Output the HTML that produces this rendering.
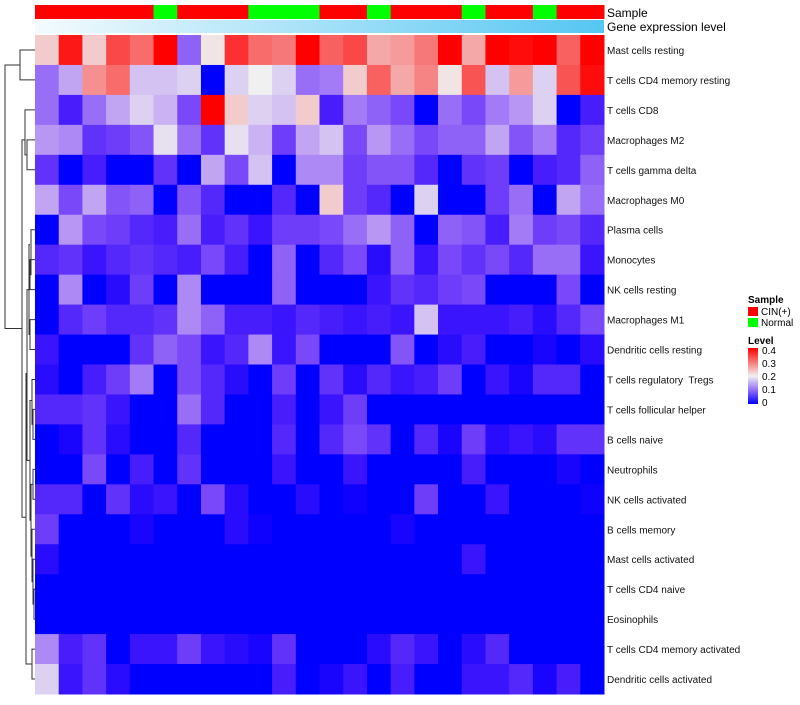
<!DOCTYPE html>
<html><head><meta charset="utf-8"><style>
body{margin:0;background:#fff;font-family:"Liberation Sans",sans-serif}
svg text{font-family:"Liberation Sans",sans-serif;white-space:pre}
</style></head><body>
<svg id="c" width="800" height="700" xmlns="http://www.w3.org/2000/svg">
<defs><linearGradient id="gexp" x1="0" x2="1" y1="0" y2="0"><stop offset="0" stop-color="#f4fbfe"/><stop offset="1" stop-color="#55c6f2"/></linearGradient>
<linearGradient id="lvl" x1="0" x2="0" y1="1" y2="0"><stop offset="0" stop-color="#0000ff"/><stop offset="0.25" stop-color="#9270f8"/><stop offset="0.5" stop-color="#f0f0f0"/><stop offset="1" stop-color="#ff0000"/></linearGradient></defs>
<g id="cells"></g>
<g id="ann"></g>
<rect x="35" y="20" width="569" height="13" fill="url(#gexp)"/>
<text x="607" y="17" font-size="12" fill="#000">Sample</text>
<text x="607" y="31" font-size="12" fill="#000">Gene expression level</text>
<g id="labels"></g>
<g id="dendro" stroke="#333" stroke-width="1" fill="none"></g>
<g>
<text x="748" y="303" font-size="10" font-weight="bold">Sample</text>
<rect x="748" y="307" width="10" height="9" fill="#ff0000"/>
<text x="761" y="315" font-size="10">CIN(+)</text>
<rect x="748" y="318" width="10" height="9" fill="#00ff00"/>
<text x="761" y="326" font-size="10">Normal</text>
<text x="748" y="344" font-size="10" font-weight="bold">Level</text>
<rect x="748" y="348" width="10" height="56" fill="url(#lvl)"/>
<text x="762" y="354" font-size="10">0.4</text>
<text x="762" y="380" font-size="10">0.2</text>
<text x="762" y="367" font-size="10">0.3</text>
<text x="762" y="393" font-size="10">0.1</text>
<text x="762" y="406" font-size="10">0</text>
</g>
</svg>
<script>
const rowNames=["Mast cells resting","T cells CD4 memory resting","T cells CD8","Macrophages M2","T cells gamma delta","Macrophages M0","Plasma cells","Monocytes","NK cells resting","Macrophages M1","Dendritic cells resting","T cells regulatory  Tregs","T cells follicular helper","B cells naive","Neutrophils","NK cells activated","B cells memory","Mast cells activated","T cells CD4 naive","Eosinophils","T cells CD4 memory activated","Dendritic cells activated"];
const sampleGroups=["CIN","CIN","CIN","CIN","CIN","Normal","CIN","CIN","CIN","Normal","Normal","Normal","CIN","CIN","Normal","CIN","CIN","CIN","Normal","CIN","CIN","Normal","CIN","CIN"];
const values=[
[0.23,0.38,0.23,0.34,0.31,0.4,0.1,0.21,0.36,0.31,0.3,0.4,0.32,0.34,0.26,0.27,0.3,0.4,0.26,0.4,0.39,0.4,0.32,0.4],
[0.11,0.15,0.28,0.31,0.17,0.17,0.18,0,0.18,0.2,0.18,0.11,0.12,0.23,0.32,0.26,0.29,0.21,0.33,0.17,0.27,0.18,0.33,0.39],
[0.11,0.04,0.11,0.15,0.18,0.16,0.08,0.4,0.23,0.18,0.17,0.23,0.04,0.12,0.1,0.08,0,0.11,0.08,0.12,0.14,0.18,0,0.04],
[0.14,0.13,0.06,0.07,0.09,0.19,0.11,0.06,0.19,0.16,0.07,0.15,0.17,0.08,0.14,0.11,0.08,0.1,0.1,0.15,0.09,0.12,0.05,0.07],
[0.06,0,0.04,0,0,0.06,0,0.15,0.08,0.17,0,0.13,0.13,0.07,0.09,0.09,0.05,0,0.06,0.07,0,0.04,0.05,0.1],
[0.15,0.08,0.15,0.09,0.1,0,0.09,0.05,0,0,0.05,0,0.23,0.07,0.05,0,0.18,0,0,0.07,0.11,0,0.15,0.11],
[0,0.14,0.08,0.07,0.05,0.04,0.11,0.04,0.06,0.03,0.07,0.07,0.08,0.11,0.14,0.1,0,0.1,0.09,0.04,0.12,0.07,0.08,0.05],
[0.05,0.06,0.03,0.05,0.06,0.05,0.04,0.08,0.04,0,0.1,0,0.05,0.08,0.02,0.1,0.03,0.08,0.06,0.08,0.05,0.11,0.11,0.03],
[0,0.13,0,0.02,0.07,0,0.13,0,0,0,0.1,0,0,0,0.03,0.06,0.05,0.07,0.08,0,0,0,0.08,0],
[0,0.05,0.07,0.05,0.05,0.06,0.13,0.1,0.04,0.04,0.03,0.05,0.04,0.03,0.04,0.03,0.17,0.03,0.03,0.03,0.04,0.02,0.05,0.08],
[0.03,0,0,0,0.06,0.1,0.08,0.03,0.05,0.13,0.03,0.08,0,0,0,0.09,0,0.02,0.04,0,0,0.01,0,0.02],
[0.02,0,0.04,0.07,0.12,0,0.08,0.05,0.02,0,0.07,0,0.06,0.02,0.05,0.03,0.04,0.07,0,0.03,0.01,0.05,0.05,0],
[0.05,0.05,0.06,0.03,0,0,0.11,0.05,0,0,0.04,0,0.03,0.07,0,0,0,0,0,0,0,0,0,0],
[0,0.01,0.06,0.02,0,0,0.05,0,0,0,0.05,0,0.05,0.08,0.06,0,0.05,0.01,0.07,0.02,0.03,0.02,0.06,0.06],
[0,0,0.08,0,0.04,0,0.06,0,0,0,0.03,0,0,0.03,0,0,0,0,0.04,0,0,0,0.01,0],
[0.05,0.05,0,0.06,0.02,0.03,0,0.08,0.02,0,0,0.02,0,0.005,0,0,0.07,0,0,0.03,0,0,0,0.005],
[0.07,0,0,0,0.01,0,0,0,0.02,0.005,0,0,0,0,0,0.01,0,0,0,0,0,0,0,0],
[0.02,0,0,0,0,0,0,0,0,0,0,0,0,0,0,0,0,0,0.03,0,0,0,0,0],
[0,0,0,0,0,0,0,0,0,0,0,0,0,0,0,0,0,0,0,0,0,0,0,0],
[0,0,0,0,0,0,0,0,0,0,0,0,0,0,0,0,0,0,0,0,0,0,0,0],
[0.13,0.04,0.06,0,0.03,0.03,0.07,0.03,0.02,0.01,0.06,0,0,0,0.02,0.05,0.03,0,0.02,0.05,0,0,0,0],
[0.18,0.03,0.06,0.02,0,0,0,0,0,0,0.04,0,0.01,0.03,0,0.04,0,0,0.03,0.03,0.05,0.01,0.04,0]
];
const NS="http://www.w3.org/2000/svg";
const X0=35,Y0=35,W=569,H=659,nc=24,nr=22,cw=W/nc,rh=H/nr;
const xPos=i=>X0+i*cw, yPos=j=>Y0+j*rh;
function col(v){v=Math.max(0,Math.min(0.4,v));let r,g,b;
 if(v<=0.2){const t=v/0.2;r=240*Math.pow(t,0.75);g=240*Math.pow(t,1.3);b=255-15*t;}
 else{const t=(v-0.2)/0.2;r=240+15*t;g=240*(1-t);b=240*(1-t);}
 return `rgb(${r|0},${g|0},${b|0})`;}
const cells=document.getElementById('cells');
values.forEach((row,j)=>row.forEach((v,i)=>{
 const r=document.createElementNS(NS,'rect');
 r.setAttribute('x',xPos(i));r.setAttribute('y',yPos(j));
 r.setAttribute('width',cw+0.5);r.setAttribute('height',rh+0.5);
 r.setAttribute('fill',col(v));
 
 
 cells.appendChild(r);}));
const ann=document.getElementById('ann');
sampleGroups.forEach((s,i)=>{
 const r=document.createElementNS(NS,'rect');
 r.setAttribute('x',xPos(i));r.setAttribute('y',5);r.setAttribute('width',cw+0.5);r.setAttribute('height',14);
 r.setAttribute('fill',s==="CIN"?"#ff0000":"#00ff00");
 
 
 ann.appendChild(r);});
const lab=document.getElementById('labels');
rowNames.forEach((n,j)=>{
 const t=document.createElementNS(NS,'text');
 t.setAttribute('x',607);t.setAttribute('y',yPos(j)+rh/2+4);t.setAttribute('font-size','10');t.setAttribute('fill','#111');
 t.textContent=n;
 
 
 lab.appendChild(t);});
const d=document.getElementById('dendro');
const mid=j=>yPos(j)+rh/2;
function link(x,ya,xa,yb,xb){const p=document.createElementNS(NS,'path');
 p.setAttribute('d',`M${xa},${ya}H${x}V${yb}H${xb}`);
 
 
 d.appendChild(p);}
link(20,mid(0),35,mid(1),35);
link(27,mid(3),35,mid(4),35);
link(25,mid(2),35,(mid(3)+mid(4))/2,27);
link(30,mid(7),35,mid(8),35);
link(31,mid(6),35,(mid(7)+mid(8))/2,30);
link(30,mid(9),35,mid(10),35);
link(29,(mid(6)+mid(7))/2,30,mid(9.5),30);
link(33,mid(12),35,mid(13),35);
link(32,mid(11),35,mid(12.5),33);
link(33,mid(14),35,mid(15),35);
link(34,mid(18),35,mid(19),35);
link(33,mid(17),35,mid(18.5),34);
link(32,mid(16),35,mid(17.75),33);
link(31,mid(14.5),33,mid(16.9),32);
link(30,mid(11.7),32,mid(15.7),31);
link(27,mid(8),29,mid(13.7),30);
link(32,mid(20),35,mid(21),35);
link(26,mid(10.8),27,mid(20.5),32);
link(22,mid(3),25,mid(15.6),26);
link(5,mid(0.5),20,mid(9.3),22);
</script>
</body></html>
